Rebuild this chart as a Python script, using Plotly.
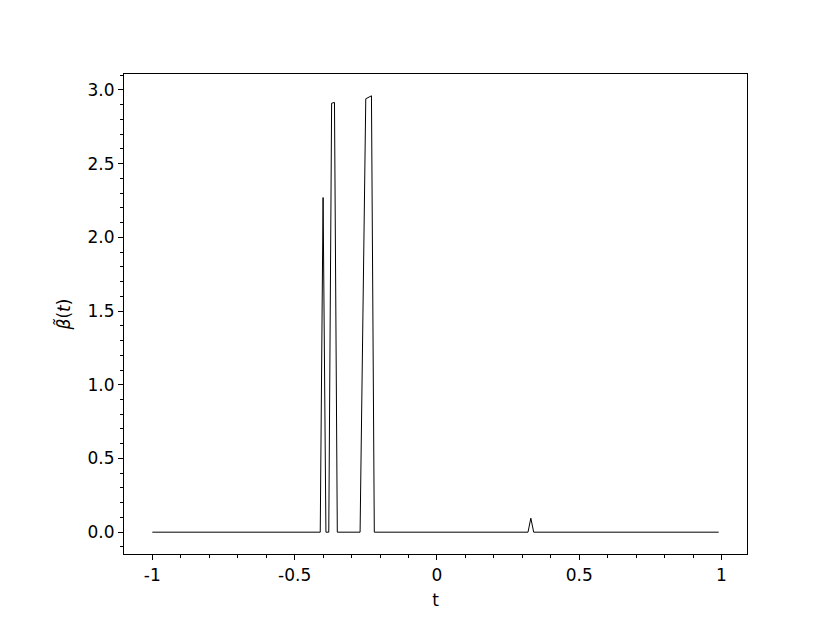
import plotly.graph_objects as go

# breakpoints of the estimated coefficient curve
t = [-1.0, -0.41, -0.40, -0.39, -0.38, -0.37, -0.36, -0.35,
     -0.27, -0.25, -0.23, -0.22, 0.32, 0.33, 0.34, 0.99]
beta = [0.0, 0.0, 2.27, 0.0, 0.0, 2.91, 2.915, 0.0,
        0.0, 2.94, 2.96, 0.0, 0.0, 0.095, 0.0, 0.0]

x_ticks = [-1, -0.5, 0, 0.5, 1]
x_labels = ["-1", "-0.5", "0", "0.5", "1"]
y_ticks = [0.0, 0.5, 1.0, 1.5, 2.0, 2.5, 3.0]
y_labels = ["0.0", "0.5", "1.0", "1.5", "2.0", "2.5", "3.0"]

font = dict(family="DejaVu Sans", size=17, color="black")

fig = go.Figure(go.Scatter(x=t, y=beta, mode="lines",
                           line=dict(color="black", width=1)))

axis_common = dict(
    showline=True, linecolor="black", linewidth=1.2, mirror=True,
    showgrid=False, zeroline=False,
    ticks="outside", ticklen=5, tickwidth=1.2, tickcolor="black",
    tickfont=font,
)

# page body adds an 8px offset, margins compensate for it
fig.update_layout(
    width=830, height=623,
    margin=dict(l=116, r=91, t=66, b=77),
    paper_bgcolor="white", plot_bgcolor="white",
    showlegend=False,
    font=font,
    xaxis=dict(
        range=[-1.0995, 1.0895],
        tickmode="array", tickvals=x_ticks, ticktext=x_labels,
        minor=dict(ticks="outside", ticklen=3, tickwidth=1, tickcolor="black",
                   tick0=0, dtick=0.1),
        title=dict(text="t", font=font, standoff=10),
        **axis_common,
    ),
    yaxis=dict(
        range=[-0.148, 3.108],
        tickmode="array", tickvals=y_ticks, ticktext=y_labels,
        minor=dict(ticks="outside", ticklen=3, tickwidth=1, tickcolor="black",
                   tick0=0, dtick=0.1),
        title=dict(text="<i>β̃</i>(<i>t</i>)", font=font, standoff=12),
        **axis_common,
    ),
)

fig.write_html("out.html")
